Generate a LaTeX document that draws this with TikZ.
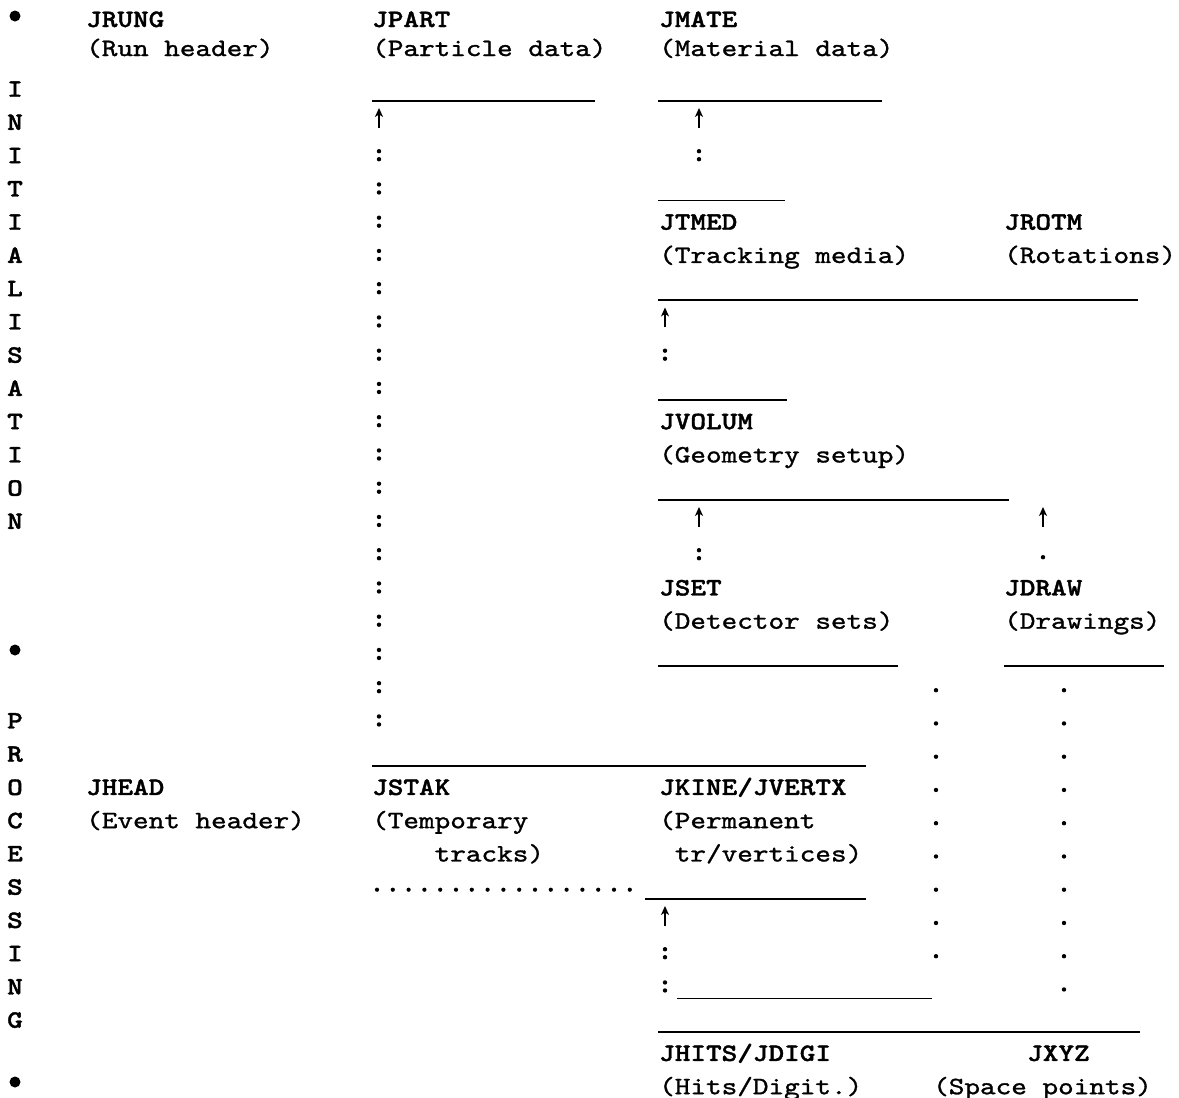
\documentclass[tikz,border=0pt]{standalone}
\usepackage{fontspec}
\usepackage{tikz}
\usetikzlibrary{arrows.meta, calc}

% typewriter faces: wider pitch and heavier strokes than Latin Modern Mono
\newfontfamily\twfont{lmmono10-regular.otf}[FakeStretch=1.19, FakeBold=1.2]
\newfontfamily\twbold{lmmonolt10-bold.otf}[FakeStretch=1.19, FakeBold=1.5]

\begin{document}
\begin{tikzpicture}[x=1pt, y=-1pt,
    declare function={by(\r)=96.7+33.25*(\r-2);},
    txt/.style={anchor=base west, inner sep=0pt, font=\twfont\fontsize{25}{25}\selectfont},
    nm/.style={txt, font=\twbold\fontsize{25}{25}\selectfont},
    side/.style={anchor=base, inner sep=0pt, font=\twbold\fontsize{25}{25}\selectfont},
    rule/.style={line width=1.6pt},
    up/.style={line width=1.4pt, -{Stealth[length=9pt, width=8pt, inset=2.5pt]}}]
  \useasboundingbox (0,0) rectangle (1179,1098);

  % Left margin: phases
  \fill (15,16) circle (5.5pt);
  \fill (15,650) circle (5.5pt);
  \fill (15,1082) circle (5.5pt);
  \foreach \l [count=\i from 2] in {I,N,I,T,I,A,L,I,S,A,T,I,O,N}
    \node[side] (ini\i) at (15,{by(\i)}) {\l};
  \foreach \l [count=\i from 21] in {P,R,O,C,E,S,S,I,N,G}
    \node[side] (proc\i) at (15,{by(\i)}) {\l};

  % Initialisation banks
  \node[nm]  (jrung)  at (86,27) {JRUNG};
  \node[txt] (jrungd) at (86,56) {(Run header)};
  \node[nm]  (jpart)  at (372,27) {JPART};
  \node[txt] (jpartd) at (372,56) {(Particle data)};
  \node[nm]  (jmate)  at (659,27) {JMATE};
  \node[txt] (jmated) at (659,56) {(Material data)};
  \node[nm]  (jtmed)  at (659,{by(6)}) {JTMED};
  \node[txt] (jtmedd) at (659,{by(7)}) {(Tracking media)};
  \node[nm]  (jrotm)  at (1004,{by(6)}) {JROTM};
  \node[txt] (jrotmd) at (1004,{by(7)}) {(Rotations)};
  \node[nm]  (jvolum)  at (659,{by(12)}) {JVOLUM};
  \node[txt] (jvolumd) at (659,{by(13)}) {(Geometry setup)};
  \node[nm]  (jset)  at (659,{by(17)}) {JSET};
  \node[txt] (jsetd) at (659,{by(18)}) {(Detector sets)};
  \node[nm]  (jdraw)  at (1004,{by(17)}) {JDRAW};
  \node[txt] (jdrawd) at (1004,{by(18)}) {(Drawings)};

  % Processing banks
  \node[nm]  (jhead)  at (86,{by(23)}) {JHEAD};
  \node[txt] (jheadd) at (86,{by(24)}) {(Event header)};
  \node[nm]  (jstak)  at (372,{by(23)}) {JSTAK};
  \node[txt] (jstakd) at (372,{by(24)}) {(Temporary};
  \node[txt] (jstake) at (372,{by(25)}) {\phantom{(Tem}tracks)};
  \node[nm]  (jkine)  at (659,{by(23)}) {JKINE/JVERTX};
  \node[txt] (jkined) at (659,{by(24)}) {(Permanent};
  \node[txt] (jkinee) at (659,{by(25)}) {\phantom{(}tr/vertices)};
  \node[nm]  (jhits)  at (659,{by(31)}) {JHITS/JDIGI};
  \node[txt] (jhitsd) at (659,{by(32)}) {(Hits/Digit.)};
  \node[nm]  (jxyz)   at (1027,{by(31)}) {JXYZ};
  \node[txt] (jxyzd)  at (933,{by(32)}) {(Space points)};

  % Bank separators (underscored lines)
  \draw[rule] (372,{by(2)+4}) -- (595,{by(2)+4});
  \draw[rule] (658,{by(2)+4}) -- (882,{by(2)+4});
  \draw[rule] (658,{by(5)+4}) -- (785,{by(5)+4});
  \draw[rule] (658,{by(8)+4}) -- (1138,{by(8)+4});
  \draw[rule] (658,{by(11)+4}) -- (787,{by(11)+4});
  \draw[rule] (658,{by(14)+4}) -- (1009,{by(14)+4});
  \draw[rule] (658,{by(19)+4}) -- (898,{by(19)+4});
  \draw[rule] (1004,{by(19)+4}) -- (1164,{by(19)+4});
  \draw[rule] (372,{by(22)+4}) -- (866,{by(22)+4});
  \draw[rule] (645,{by(26)+4}) -- (866,{by(26)+4});
  \draw[rule] (677,{by(29)+4}) -- (932,{by(29)+4});
  \draw[rule] (658,{by(30)+4}) -- (1140,{by(30)+4});

  % Upward references
  \draw[up] (379,{by(3)-2}) -- (379,{by(3)-22});
  \draw[up] (699,{by(3)-2}) -- (699,{by(3)-22});
  \draw[up] (665,{by(9)-2}) -- (665,{by(9)-22});
  \draw[up] (699,{by(15)-2}) -- (699,{by(15)-22});
  \draw[up] (1043,{by(15)-2}) -- (1043,{by(15)-22});
  \draw[up] (665,{by(27)-2}) -- (665,{by(27)-22});

  % Colon chains
  \foreach \x/\r in {699/4, 665/10, 699/16, 665/28, 665/29} {
    \fill (\x,{by(\r)-12}) circle (2.2pt);
    \fill (\x,{by(\r)-4}) circle (2.2pt);
  }
  \foreach \r in {4,...,21} {
    \fill (379,{by(\r)-12}) circle (2.2pt);
    \fill (379,{by(\r)-4}) circle (2.2pt);
  }

  % Dotted chains
  \fill (1043,{by(16)-5}) circle (2.2pt);
  \foreach \r in {20,...,28}
    \fill (936,{by(\r)-5}) circle (2.2pt);
  \foreach \r in {20,...,29}
    \fill (1064,{by(\r)-5}) circle (2.2pt);
  \foreach \i in {0,...,16}
    \fill ({377+15.8*\i},{by(26)-5}) circle (2.1pt);

\end{tikzpicture}
\end{document}
